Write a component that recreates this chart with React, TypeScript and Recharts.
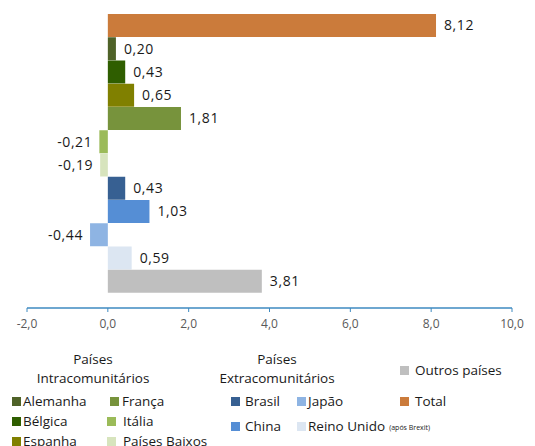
import React from 'react';
import { BarChart, Bar, XAxis, YAxis, Cell, LabelList } from 'recharts';

const countries = [
  'Total', 'Alemanha', 'Bélgica', 'Espanha', 'França', 'Itália', 'Países Baixos',
  'Brasil', 'China', 'Japão', 'Reino Unido', 'Outros países',
];
const values = [8.12, 0.2, 0.43, 0.65, 1.81, -0.21, -0.19, 0.43, 1.03, -0.44, 0.59, 3.81];
const colors = [
  '#CB7B3B', '#4F6228', '#2F5E00', '#808000', '#77933C', '#9BBB59', '#D7E4BD',
  '#376092', '#558ED5', '#8EB4E3', '#DCE6F2', '#BFBFBF',
];
const xTicks = [-2, 0, 2, 4, 6, 8, 10];

const data = countries.map((name, i) => ({ name, value: values[i] }));
const colorOf = (name: string) => colors[countries.indexOf(name)];

const fmt = (v: number, d: number) => v.toFixed(d).replace('.', ',');
const FONT = '"Open Sans", "Noto Sans", sans-serif';

const ValueLabel = (props: any) => {
  const { x, y, width, height, value } = props;
  const left = Math.min(x, x + width);
  const right = Math.max(x, x + width);
  const neg = value < 0;
  return (
    <text
      x={neg ? left - 7 : right + 8}
      y={y + height / 2}
      dy="0.35em"
      textAnchor={neg ? 'end' : 'start'}
      fontSize={14}
      letterSpacing={0.6}
      fontFamily={FONT}
      fill="#1a1a1a"
    >
      {fmt(value, 2)}
    </text>
  );
};

const Swatch = ({ name, x, y, label, small }: any) => (
  <div style={{ position: 'absolute', left: x, top: y, display: 'flex', alignItems: 'center', whiteSpace: 'nowrap' }}>
    <span style={{ width: 9, height: 9, background: colorOf(name), display: 'inline-block', marginRight: label }} />
    <span>{name}</span>
    {small && <span style={{ fontSize: 7, marginLeft: 4, marginTop: 3 }}>{small}</span>}
  </div>
);

export default function App() {
  return (
    <div style={{ position: 'absolute', left: 0, top: 0, width: 535, height: 446, background: '#fff', overflow: 'hidden', fontFamily: FONT, fontSize: 13.5, color: '#1a1a1a' }}>
      <BarChart
        width={535}
        height={340}
        data={data}
        layout="vertical"
        barCategoryGap={0}
        margin={{ top: 14, right: 23, bottom: 0, left: 27 }}
      >
        <XAxis
          type="number"
          domain={[-2, 10]}
          ticks={xTicks}
          interval={0}
          tickFormatter={(v: number) => fmt(v, 1)}
          axisLine={{ stroke: '#3E8AC0', strokeWidth: 1.5 }}
          tickLine={{ stroke: '#3E8AC0' }}
          tickSize={4}
          tickMargin={7}
          tick={{ fill: '#595959', fontSize: 12, fontFamily: FONT }}
          height={32}
        />
        <YAxis type="category" dataKey="name" hide width={0} padding={{ top: 0, bottom: 15 }} />
        <Bar dataKey="value" isAnimationActive={false}>
          {data.map((d) => (
            <Cell key={d.name} fill={colorOf(d.name)} />
          ))}
          <LabelList dataKey="value" content={ValueLabel} />
        </Bar>
      </BarChart>

      <div style={{ position: 'absolute', left: 0, top: 350, width: 535, height: 96 }}>
        <div style={{ position: 'absolute', left: 28, top: 0, width: 130, textAlign: 'center', lineHeight: '19px' }}>
          Países<br />Intracomunitários
        </div>
        <div style={{ position: 'absolute', left: 212, top: 0, width: 130, textAlign: 'center', lineHeight: '19px' }}>
          Países<br />Extracomunitários
        </div>
        <Swatch name="Alemanha" x={12} y={42} label={2} />
        <Swatch name="Bélgica" x={12} y={62} label={2} />
        <Swatch name="Espanha" x={12} y={82} label={2} />
        <Swatch name="França" x={110} y={42} label={3} />
        <Swatch name="Itália" x={107} y={62} label={7} />
        <Swatch name="Países Baixos" x={107} y={82} label={7} />
        <Swatch name="Brasil" x={231} y={42} label={5} />
        <Swatch name="China" x={231} y={67} label={5} />
        <Swatch name="Japão" x={297} y={42} label={2} />
        <Swatch name="Reino Unido" x={297} y={67} label={2} small="(após Brexit)" />
        <Swatch name="Outros países" x={400} y={11} label={6} />
        <Swatch name="Total" x={400} y={42} label={6} />
      </div>
    </div>
  );
}
